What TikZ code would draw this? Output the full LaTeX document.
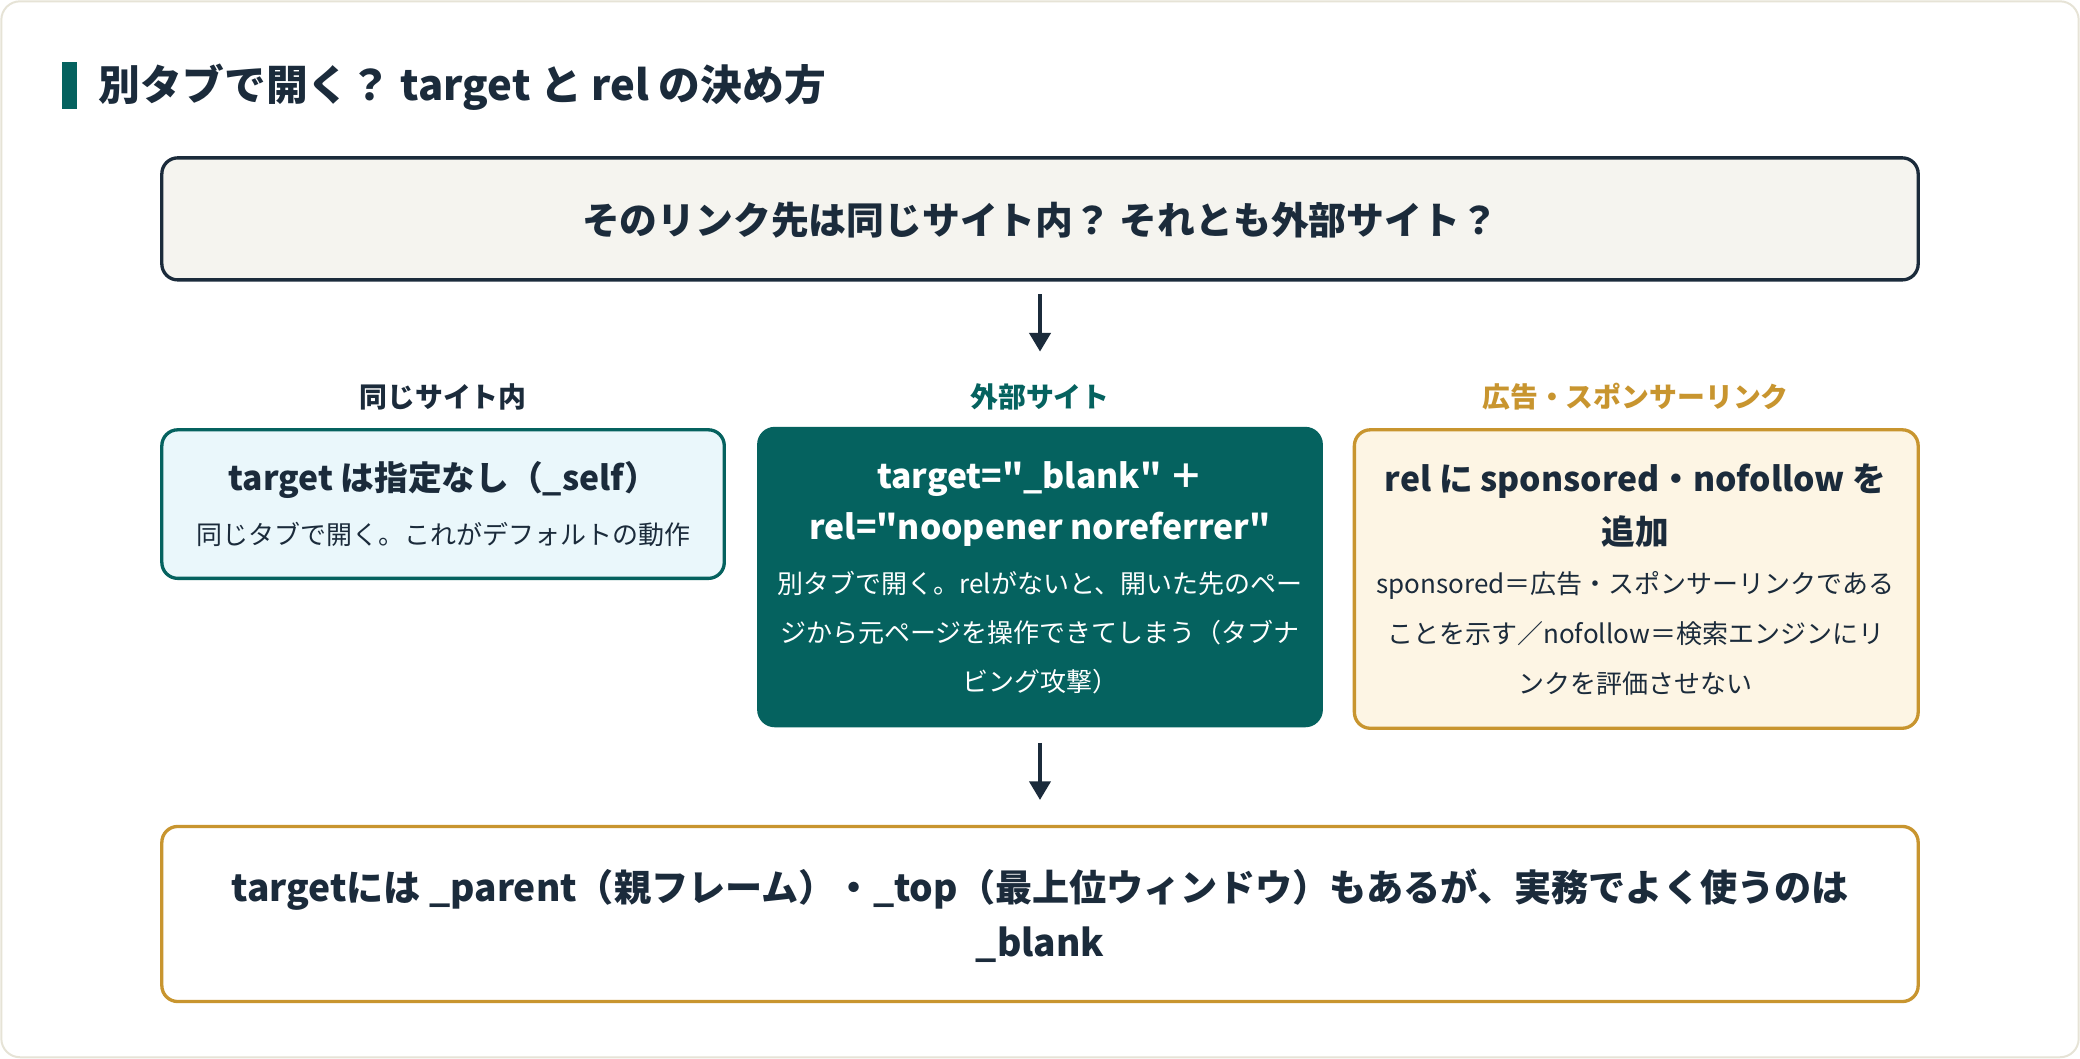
\documentclass[tikz,border=0pt]{standalone}
\usepackage{fontspec}
\setmainfont{Noto Sans CJK JP}
\newfontfamily\qf{Noto Sans CJK JP}
\usetikzlibrary{arrows.meta}
\definecolor{navy}{HTML}{1B2B3B}
\definecolor{teal}{HTML}{05625F}
\definecolor{gold}{HTML}{C8952F}
\definecolor{frame}{HTML}{E6E3D6}
\definecolor{topfill}{HTML}{F5F4EF}
\definecolor{lfill}{HTML}{EAF7FB}
\definecolor{rfill}{HTML}{FDF5E4}
\newcommand{\fs}[1]{\fontsize{#1}{#1}\selectfont}
\begin{document}
\begin{tikzpicture}[x=1pt,y=-1pt,
  box/.style={rounded corners=12pt,line width=2.5pt},
  big/.style={font=\fs{28.5}\bfseries,text=navy},
  mid/.style={font=\fs{25.4}\bfseries,text=navy},
  small/.style={font=\fs{19.6},text=navy},
  lab/.style={font=\fs{21}\bfseries},
  arr/.style={-{Triangle[length=14pt,width=16pt]},line width=2.5pt,draw=navy}]
\draw[frame,fill=white,rounded corners=14pt,line width=1.5pt] (1,1) rectangle (1567,797);
\useasboundingbox (0,0) rectangle (1568,798);
\fill[teal] (47,47) rectangle (58,82);
\node[anchor=west,font=\fs{31.5}\bfseries,text=navy] (title) at (71,66) {別タブで開く？ target と rel の決め方};
% top
\draw[box,draw=navy,fill=topfill] (122,119) rectangle (1446,211);
\node[big] (q) at (784,166) {そのリンク先は同じサイト内？ それとも外部サイト？};
\coordinate (a1) at (784,222); \coordinate (a2) at (784,265);
\draw[arr] (a1) -- (a2);
% labels
\node[lab,text=navy] (l1) at (334,299) {同じサイト内};
\node[lab,text=teal] (l2) at (784,299) {外部サイト};
\node[lab,text=gold] (l3) at (1233,299) {広告・スポンサーリンク};
% left
\draw[box,draw=teal,fill=lfill] (122,324) rectangle (546,436);
\node[mid] (b1) at (334,362) {target は指定なし（\_self）};
\node[small] (b1s) at (334,403) {同じタブで開く。これがデフォルトの動作};
% mid
\draw[box,draw=teal,fill=teal] (572,323) rectangle (996,547);
\node[mid,text=white,font=\qf\fs{25.4}\bfseries] (b2) at (784,361) {target="\_blank" ＋};
\node[mid,text=white,font=\qf\fs{25.4}\bfseries] (b2b) at (784,399) {rel="noopener noreferrer"};
\node[small,text=white] (b2s1) at (784,440) {別タブで開く。relがないと、開いた先のペー};
\node[small,text=white] (b2s2) at (784,477) {ジから元ページを操作できてしまう（タブナ};
\node[small,text=white] (b2s3) at (784,514) {ビング攻撃）};
% right
\draw[box,draw=gold,fill=rfill] (1021,324) rectangle (1446,549);
\node[mid] (b3) at (1233,363) {rel に sponsored・nofollow を};
\node[mid] (b3b) at (1233,401) {追加};
\node[small] (b3s1) at (1233,441) {sponsored＝広告・スポンサーリンクである};
\node[small] (b3s2) at (1233,478) {ことを示す／nofollow＝検索エンジンにリ};
\node[small] (b3s3) at (1233,515) {ンクを評価させない};
\coordinate (c1) at (784,560); \coordinate (c2) at (784,603);
\draw[arr] (c1) -- (c2);
% bottom
\draw[box,draw=gold,fill=white] (122,623) rectangle (1446,755);
\node[font=\fs{28}\bfseries,text=navy] (f1) at (784,671) {targetには \_parent（親フレーム）・\_top（最上位ウィンドウ）もあるが、実務でよく使うのは};
\node[font=\fs{28}\bfseries,text=navy] (f2) at (784,712) {\_blank};
\end{tikzpicture}
\end{document}
